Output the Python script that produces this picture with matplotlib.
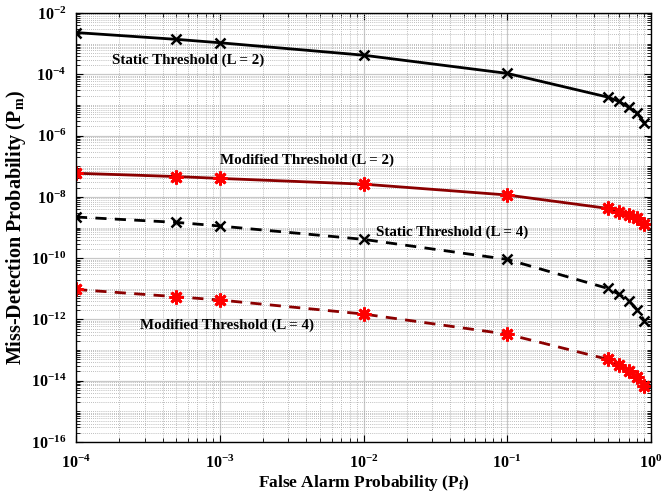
import numpy as np
import matplotlib
matplotlib.use("Agg")
import matplotlib.pyplot as plt
from matplotlib.ticker import LogLocator, FixedLocator, NullFormatter

plt.rcParams['font.family'] = ['Liberation Serif', 'DejaVu Serif']
plt.rcParams['font.weight'] = 'bold'
plt.rcParams['mathtext.fontset'] = 'custom'
plt.rcParams['mathtext.rm'] = 'Liberation Serif:bold'
plt.rcParams['mathtext.it'] = 'Liberation Serif:bold'
plt.rcParams['mathtext.bf'] = 'Liberation Serif:bold'

# false alarm probabilities
pf = [1e-4, 5e-4, 1e-3, 1e-2, 1e-1, 0.5, 0.6, 0.7, 0.8, 0.9]

# miss-detection probabilities
static_l2 = [2.3e-3, 1.38e-3, 1.07e-3, 4.2e-4, 1.07e-4, 1.8e-5, 1.3e-5, 8.3e-6, 5.4e-6, 2.6e-6]
modified_l2 = [5.9e-8, 4.6e-8, 4.0e-8, 2.6e-8, 1.15e-8, 4.2e-9, 3.3e-9, 2.6e-9, 2.0e-9, 1.27e-9]
static_l4 = [2.2e-9, 1.47e-9, 1.12e-9, 4.1e-10, 9.1e-11, 1.03e-11, 6.6e-12, 4.1e-12, 2.1e-12, 8.9e-13]
modified_l4 = [9.5e-12, 5.5e-12, 4.3e-12, 1.5e-12, 3.3e-13, 5.0e-14, 3.3e-14, 2.1e-14, 1.35e-14, 6.8e-15]

xticks = [1e-4, 1e-3, 1e-2, 1e-1, 1]
xtick_labels = ['$10^{-4}$', '$10^{-3}$', '$10^{-2}$', '$10^{-1}$', '$10^{0}$']
yticks = [1e-16, 1e-14, 1e-12, 1e-10, 1e-8, 1e-6, 1e-4, 1e-2]
ytick_labels = ['$10^{-16}$', '$10^{-14}$', '$10^{-12}$', '$10^{-10}$',
                '$10^{-8}$', '$10^{-6}$', '$10^{-4}$', '$10^{-2}$']

fig = plt.figure(figsize=(6.63, 4.99), dpi=100)
ax = fig.add_axes([76 / 663, 57 / 499, 575 / 663, 429 / 499])

dark_red = '#8b0000'
star = (8, 2, 0)

ax.plot(pf, static_l2, '-', color='black', lw=2, marker='x', ms=7, mew=1.8)
ax.plot(pf, modified_l2, '-', color=dark_red, lw=2, marker=star, ms=10,
        mec='red', mfc='red', mew=2.0)
ax.plot(pf, static_l4, '--', color='black', lw=2, marker='x', ms=7, mew=1.8,
        dashes=(4, 3))
ax.plot(pf, modified_l4, '--', color=dark_red, lw=2, marker=star, ms=10,
        mec='red', mfc='red', mew=2.0, dashes=(4, 3))

ax.set_xscale('log')
ax.set_yscale('log')
ax.set_xlim(1e-4, 1)
ax.set_ylim(1e-16, 1e-2)

ax.xaxis.set_major_locator(FixedLocator(xticks))
ax.set_xticklabels(xtick_labels)
ax.yaxis.set_major_locator(FixedLocator(yticks))
ax.set_yticklabels(ytick_labels)
ax.xaxis.set_minor_locator(LogLocator(base=10, subs=np.arange(2, 10), numticks=50))
ax.yaxis.set_minor_locator(LogLocator(base=10, subs=np.arange(1, 10), numticks=50))
ax.xaxis.set_minor_formatter(NullFormatter())
ax.yaxis.set_minor_formatter(NullFormatter())

ax.grid(True, which='major', color='#c8c8c8', lw=0.9, ls='-')
ax.grid(True, which='minor', color='#a8a8a8', lw=0.6, ls=(0, (1, 1.5)))
ax.set_axisbelow(True)

ax.tick_params(which='both', direction='in', top=True, right=True, labelsize=11.5)
ax.tick_params(which='major', length=5)
ax.tick_params(axis='x', which='major', pad=9)
ax.tick_params(axis='y', which='major', pad=7)
ax.tick_params(which='minor', length=3)
for sp in ax.spines.values():
    sp.set_linewidth(1.0)

ax.set_xlabel('False Alarm Probability (P$_\\mathrm{f}$)', fontsize=12.5, fontweight='bold', labelpad=1)
ax.set_ylabel('Miss-Detection Probability (P$_\\mathrm{m}$)', fontsize=14.5, fontweight='bold', labelpad=2)

ax.text(1.78e-4, 10**-3.53, 'Static Threshold (L = 2)', fontsize=10.8, fontweight='bold', va='center')
ax.text(1.01e-3, 10**-6.80, 'Modified Threshold (L = 2)', fontsize=10.8, fontweight='bold', va='center')
ax.text(1.22e-2, 10**-9.15, 'Static Threshold (L = 4)', fontsize=10.8, fontweight='bold', va='center')
ax.text(2.78e-4, 10**-12.18, 'Modified Threshold (L = 4)', fontsize=10.8, fontweight='bold', va='center')

fig.savefig('out.png', dpi=100)
